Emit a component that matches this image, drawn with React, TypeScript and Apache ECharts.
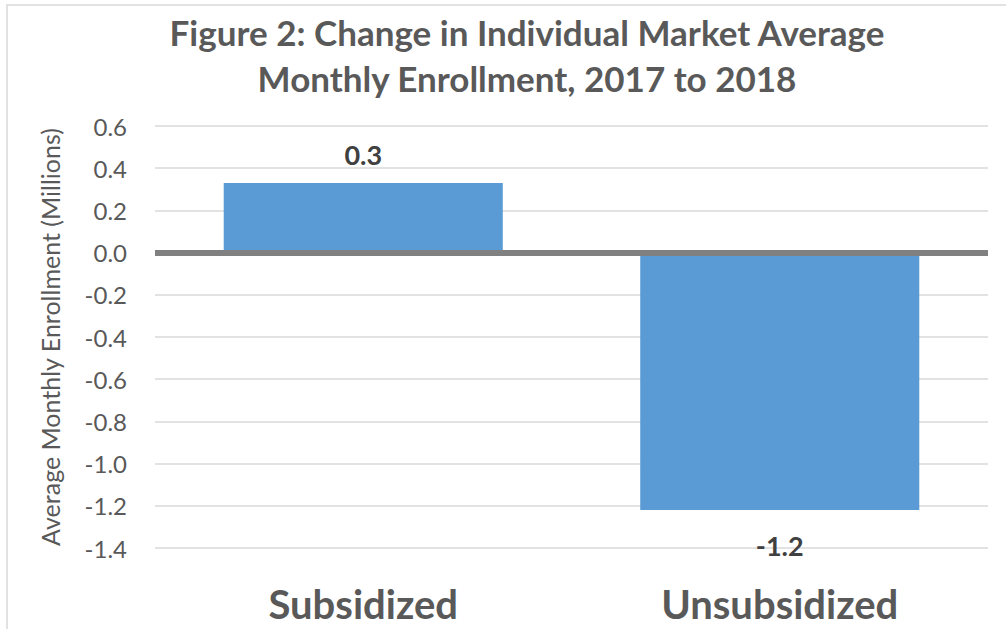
import React, { useEffect, useRef } from "react";
import * as echarts from "echarts";

const categories = ["Subsidized", "Unsubsidized"];
const values = [0.33, -1.22];
const titleLines = ["Figure 2: Change in Individual Market Average", "Monthly Enrollment, 2017 to 2018"];
const yAxisName = "Average Monthly Enrollment (Millions)";
const yMin = -1.4;
const yMax = 0.6;
const yStep = 0.2;

const FONT = "Lato, 'Open Sans', sans-serif";

export default function App() {
  const ref = useRef<HTMLDivElement>(null);
  useEffect(() => {
    if (!ref.current) return;
    const chart = echarts.init(ref.current, null, { renderer: "svg" });
    chart.setOption({
      animation: false,
      backgroundColor: "#ffffff",
      title: {
        text: titleLines.join("\n"),
        left: 522,
        textAlign: "center",
        top: 4,
        textStyle: {
          fontFamily: FONT,
          fontSize: 35,
          fontWeight: "bold",
          color: "#595959",
          lineHeight: 46,
        },
      },
      graphic: [
        {
          type: "rect",
          shape: { x: 7, y: 5, width: 1020, height: 640 },
          style: { fill: "none", stroke: "#d9d9d9", lineWidth: 1.5 },
          silent: true,
        },
      ],
      grid: { left: 155, right: 18, top: 126, bottom: 81 },
      xAxis: {
        type: "category",
        data: categories,
        axisLine: { show: false, onZero: false },
        axisTick: { show: false },
        axisLabel: {
          fontFamily: FONT,
          fontSize: 40,
          fontWeight: "bold",
          color: "#595959",
          margin: 36,
        },
      },
      yAxis: {
        type: "value",
        min: yMin,
        max: yMax,
        interval: yStep,
        name: yAxisName,
        nameLocation: "middle",
        nameGap: 93,
        nameTextStyle: { fontFamily: FONT, fontSize: 25, color: "#595959" },
        axisLine: { show: false },
        axisTick: { show: false },
        axisLabel: {
          fontFamily: FONT,
          fontSize: 24,
          color: "#595959",
          margin: 28,
          formatter: (v: number) => v.toFixed(1),
        },
        splitLine: { lineStyle: { color: "#d9d9d9", width: 1.5 } },
      },
      series: [
        {
          type: "bar",
          barCategoryGap: "33%",
          itemStyle: { color: "#5b9bd5" },
          data: values.map((v) => ({
            value: v,
            label: {
              show: true,
              position: v >= 0 ? "top" : "bottom",
              distance: v >= 0 ? 15 : 22,
              fontFamily: FONT,
              fontSize: 27,
              fontWeight: "bold",
              color: "#404040",
              formatter: (p: any) => Number(p.value).toFixed(1),
            },
          })),
          markLine: {
            silent: true,
            symbol: "none",
            label: { show: false },
            lineStyle: { color: "#808080", width: 6, type: "solid" },
            data: [{ yAxis: 0 }],
          },
        },
      ],
    });
    return () => chart.dispose();
  }, []);
  return (
    <div
      ref={ref}
      style={{ position: "fixed", left: 0, top: 0, width: 1006, height: 629 }}
    />
  );
}
